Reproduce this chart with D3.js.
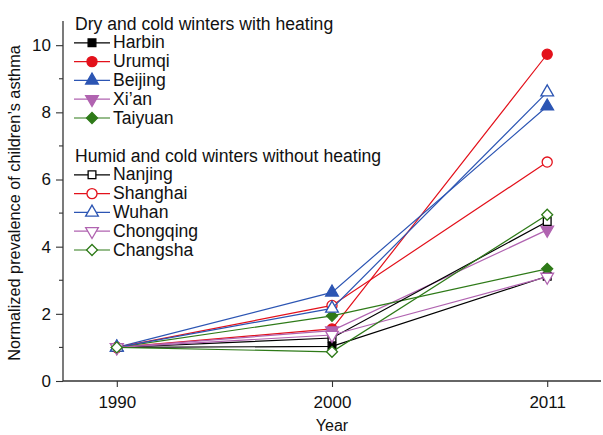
<!DOCTYPE html>
<html>
<head>
<meta charset="utf-8">
<script src="https://cdn.jsdelivr.net/npm/d3@7"></script>
<style>
  html, body { margin: 0; padding: 0; background: #fff; }
  svg { display: block; font-family: "Liberation Sans", Arial, sans-serif; }
</style>
</head>
<body>
<svg id="chart" width="603" height="435"></svg>
<script>
// Survey years (categorical x axis)
const years = ["1990", "2000", "2011"];

// Normalized prevalence (1990 = 1) per city
const harbin    = [1, 1.03, 3.12];
const urumqi    = [1, 1.55, 9.73];
const beijing   = [1, 2.64, 8.18];
const xian      = [1, 1.50, 4.50];
const taiyuan   = [1, 1.94, 3.34];
const nanjing   = [1, 1.28, 4.75];
const shanghai  = [1, 2.25, 6.52];
const wuhan     = [1, 2.16, 8.60];
const chongqing = [1, 1.37, 3.10];
const changsha  = [1, 0.87, 4.95];

const yTicks = [0, 2, 4, 6, 8, 10];
const yMinorTicks = [1, 3, 5, 7, 9];

const groupTitles = ["Dry and cold winters with heating", "Humid and cold winters without heating"];

const RED = "#e3111b", BLUE = "#2c55b3", PURPLE = "#b063b0", GREEN = "#2e7a18", BLACK = "#000";

const series = [
  { name: "Harbin",    values: harbin,    color: BLACK,  sym: d3.symbolSquare,   filled: true,  group: 0, rot: 0 },
  { name: "Urumqi",    values: urumqi,    color: RED,    sym: d3.symbolCircle,   filled: true,  group: 0, rot: 0 },
  { name: "Beijing",   values: beijing,   color: BLUE,   sym: d3.symbolTriangle, filled: true,  group: 0, rot: 0 },
  { name: "Xi\u2019an", values: xian,     color: PURPLE, sym: d3.symbolTriangle, filled: true,  group: 0, rot: 180 },
  { name: "Taiyuan",   values: taiyuan,   color: GREEN,  sym: d3.symbolSquare,   filled: true,  group: 0, rot: 45 },
  { name: "Nanjing",   values: nanjing,   color: BLACK,  sym: d3.symbolSquare,   filled: false, group: 1, rot: 0 },
  { name: "Shanghai",  values: shanghai,  color: RED,    sym: d3.symbolCircle,   filled: false, group: 1, rot: 0 },
  { name: "Wuhan",     values: wuhan,     color: BLUE,   sym: d3.symbolTriangle, filled: false, group: 1, rot: 0 },
  { name: "Chongqing", values: chongqing, color: PURPLE, sym: d3.symbolTriangle, filled: false, group: 1, rot: 180 },
  { name: "Changsha",  values: changsha,  color: GREEN,  sym: d3.symbolSquare,   filled: false, group: 1, rot: 45 }
];

const svg = d3.select("#chart");
const plotLeft = 63, plotRight = 601, plotTop = 21, plotBottom = 381;

const x = d3.scalePoint().domain(years).range([plotLeft, plotRight]).padding(0.25);
const y = d3.scaleLinear().domain([0, 10.72]).range([plotBottom, plotTop]);

const symSize = s => {
  if (s.sym === d3.symbolCircle) return 80;
  if (s.sym === d3.symbolTriangle) return 70;
  return 60;
};
const symPath = s => d3.symbol().type(s.sym).size(symSize(s))();

// Axes
const axisColor = "#333";
const yAxis = svg.append("g").attr("transform", `translate(${plotLeft},0)`)
  .call(d3.axisLeft(y).tickValues(yTicks).tickSize(7).tickPadding(5).tickSizeOuter(0));
yAxis.append("g").selectAll("line").data(yMinorTicks).join("line")
  .attr("x1", -4).attr("x2", 0).attr("y1", d => y(d)).attr("y2", d => y(d))
  .attr("stroke", axisColor).attr("stroke-width", 1.1);

const xAxis = svg.append("g").attr("transform", `translate(0,${plotBottom})`)
  .call(d3.axisBottom(x).tickSize(6).tickPadding(9).tickSizeOuter(0));

[yAxis, xAxis].forEach(g => {
  g.select(".domain").attr("stroke", axisColor).attr("stroke-width", 1.3);
  g.selectAll(".tick line").attr("stroke", axisColor).attr("stroke-width", 1.1);
  g.selectAll(".tick text").attr("fill", "#111").style("font-size", "17px")
    .style("font-family", "'Liberation Sans', Arial, sans-serif");
});
yAxis.select(".domain").attr("d", `M0,${plotBottom}V${plotTop}`);
xAxis.select(".domain").attr("d", `M${plotLeft},0H${plotRight}`);

// Axis titles
svg.append("text").attr("x", x("2000")).attr("y", 431).attr("text-anchor", "middle")
  .attr("fill", "#111").style("font-size", "16px").text("Year");
svg.append("text").attr("transform", `translate(20,${(plotTop + plotBottom) / 2 + 2}) rotate(-90)`)
  .attr("text-anchor", "middle").attr("fill", "#111").style("font-size", "16.3px")
  .text("Normalized prevalence of children\u2019s asthma");

// Data lines and markers
const line = d3.line().x((d, i) => x(years[i])).y(d => y(d));
const plot = svg.append("g");
series.forEach(s => {
  const g = plot.append("g");
  g.append("path").attr("d", line(s.values)).attr("fill", "none")
    .attr("stroke", s.color).attr("stroke-width", 1.2);
  g.selectAll("path.m").data(s.values).join("path").attr("class", "m")
    .attr("d", symPath(s))
    .attr("transform", (d, i) => `translate(${x(years[i])},${y(d)}) rotate(${s.rot})`)
    .attr("fill", s.filled ? s.color : "#fff")
    .attr("stroke", s.color).attr("stroke-width", 1.3);
});

// Legend
const legend = svg.append("g");
const headerY = [30, 162];
const rowStep = 18.8;
groupTitles.forEach((t, gi) => {
  legend.append("text").attr("x", 75).attr("y", headerY[gi]).attr("fill", "#111")
    .style("font-size", "17.6px").text(t);
});
series.forEach(s => {
  const idx = series.filter(o => o.group === s.group).indexOf(s);
  const by = headerY[s.group] + 18.3 + rowStep * idx;
  const cy = by - 5.5;
  legend.append("line").attr("x1", 74).attr("x2", 110).attr("y1", cy).attr("y2", cy)
    .attr("stroke", s.color).attr("stroke-width", 1.2);
  legend.append("path").attr("d", symPath(s))
    .attr("transform", `translate(92,${cy}) rotate(${s.rot})`)
    .attr("fill", s.filled ? s.color : "#fff").attr("stroke", s.color).attr("stroke-width", 1.3);
  legend.append("text").attr("x", 113).attr("y", by).attr("fill", "#111")
    .style("font-size", "17.6px").text(s.name);
});
</script>
</body>
</html>
